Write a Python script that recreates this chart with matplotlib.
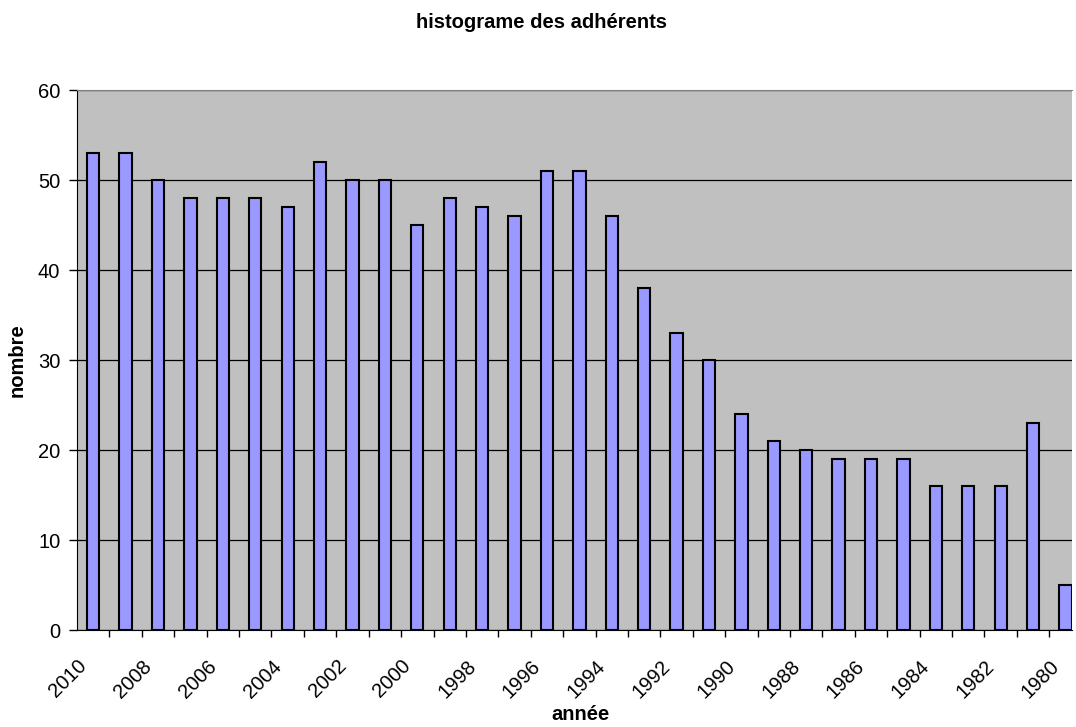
import matplotlib.pyplot as plt
import matplotlib.transforms as mtransforms

plt.rcParams['font.family'] = ['Liberation Sans', 'DejaVu Sans']

years = list(range(2010, 1979, -1))
counts = [53, 53, 50, 48, 48, 48, 47, 52, 50, 50, 45, 48, 47, 46, 51, 51,
          46, 38, 33, 30, 24, 21, 20, 19, 19, 19, 16, 16, 16, 23, 5]
tick_years = [str(y) if y % 2 == 0 else '' for y in years]

fs = 14.5
fig = plt.figure(figsize=(10.76, 7.27), dpi=100)
ax = fig.add_axes([77 / 1076, 1 - 630 / 727, (1072 - 77) / 1076, (630 - 90) / 727])
ax.set_facecolor('#C0C0C0')

x = list(range(len(years)))
ax.bar(x, counts, width=0.38, color='#9999FF', edgecolor='black', linewidth=1.5, zorder=3)

ax.set_xlim(-0.5, 30.2)
ax.set_ylim(0, 60)
ax.set_yticks(range(0, 61, 10))
ax.yaxis.grid(True, color='black', linewidth=0.9, zorder=1)
ax.tick_params(axis='y', labelsize=fs, length=6, width=1, color='black', direction='out', pad=6)

ax.set_xticks(x)
ax.set_xticklabels(tick_years, rotation=45, ha='right', rotation_mode='anchor', fontsize=fs)
ax.set_xticks([i - 0.5 for i in range(1, len(years))], minor=True)
ax.tick_params(axis='x', which='major', length=0, pad=19)
ax.tick_params(axis='x', which='minor', length=5, width=1, color='black', direction='out')

# shift rotated year labels a bit to the left, as in the original
shift = mtransforms.ScaledTranslation(-16 / 100, 0, fig.dpi_scale_trans)
for lbl in ax.get_xticklabels():
    lbl.set_transform(lbl.get_transform() + shift)

ax.spines['top'].set_color('#808080')
ax.spines['left'].set_color('black')
ax.spines['bottom'].set_color('black')
ax.spines['right'].set_visible(False)

ax.set_xlabel('année', fontsize=fs, fontweight='bold')
ax.xaxis.set_label_coords((580 - 77) / 995, (630 - 705) / 540)
ax.set_ylabel('nombre', fontsize=fs, fontweight='bold')
ax.yaxis.set_label_coords((27 - 77) / 995, 0.5)
fig.text(541 / 1076, 1 - 22 / 727, 'histograme des adhérents', fontsize=fs, fontweight='bold',
         ha='center', va='center')

plt.savefig('out.png', dpi=100)
